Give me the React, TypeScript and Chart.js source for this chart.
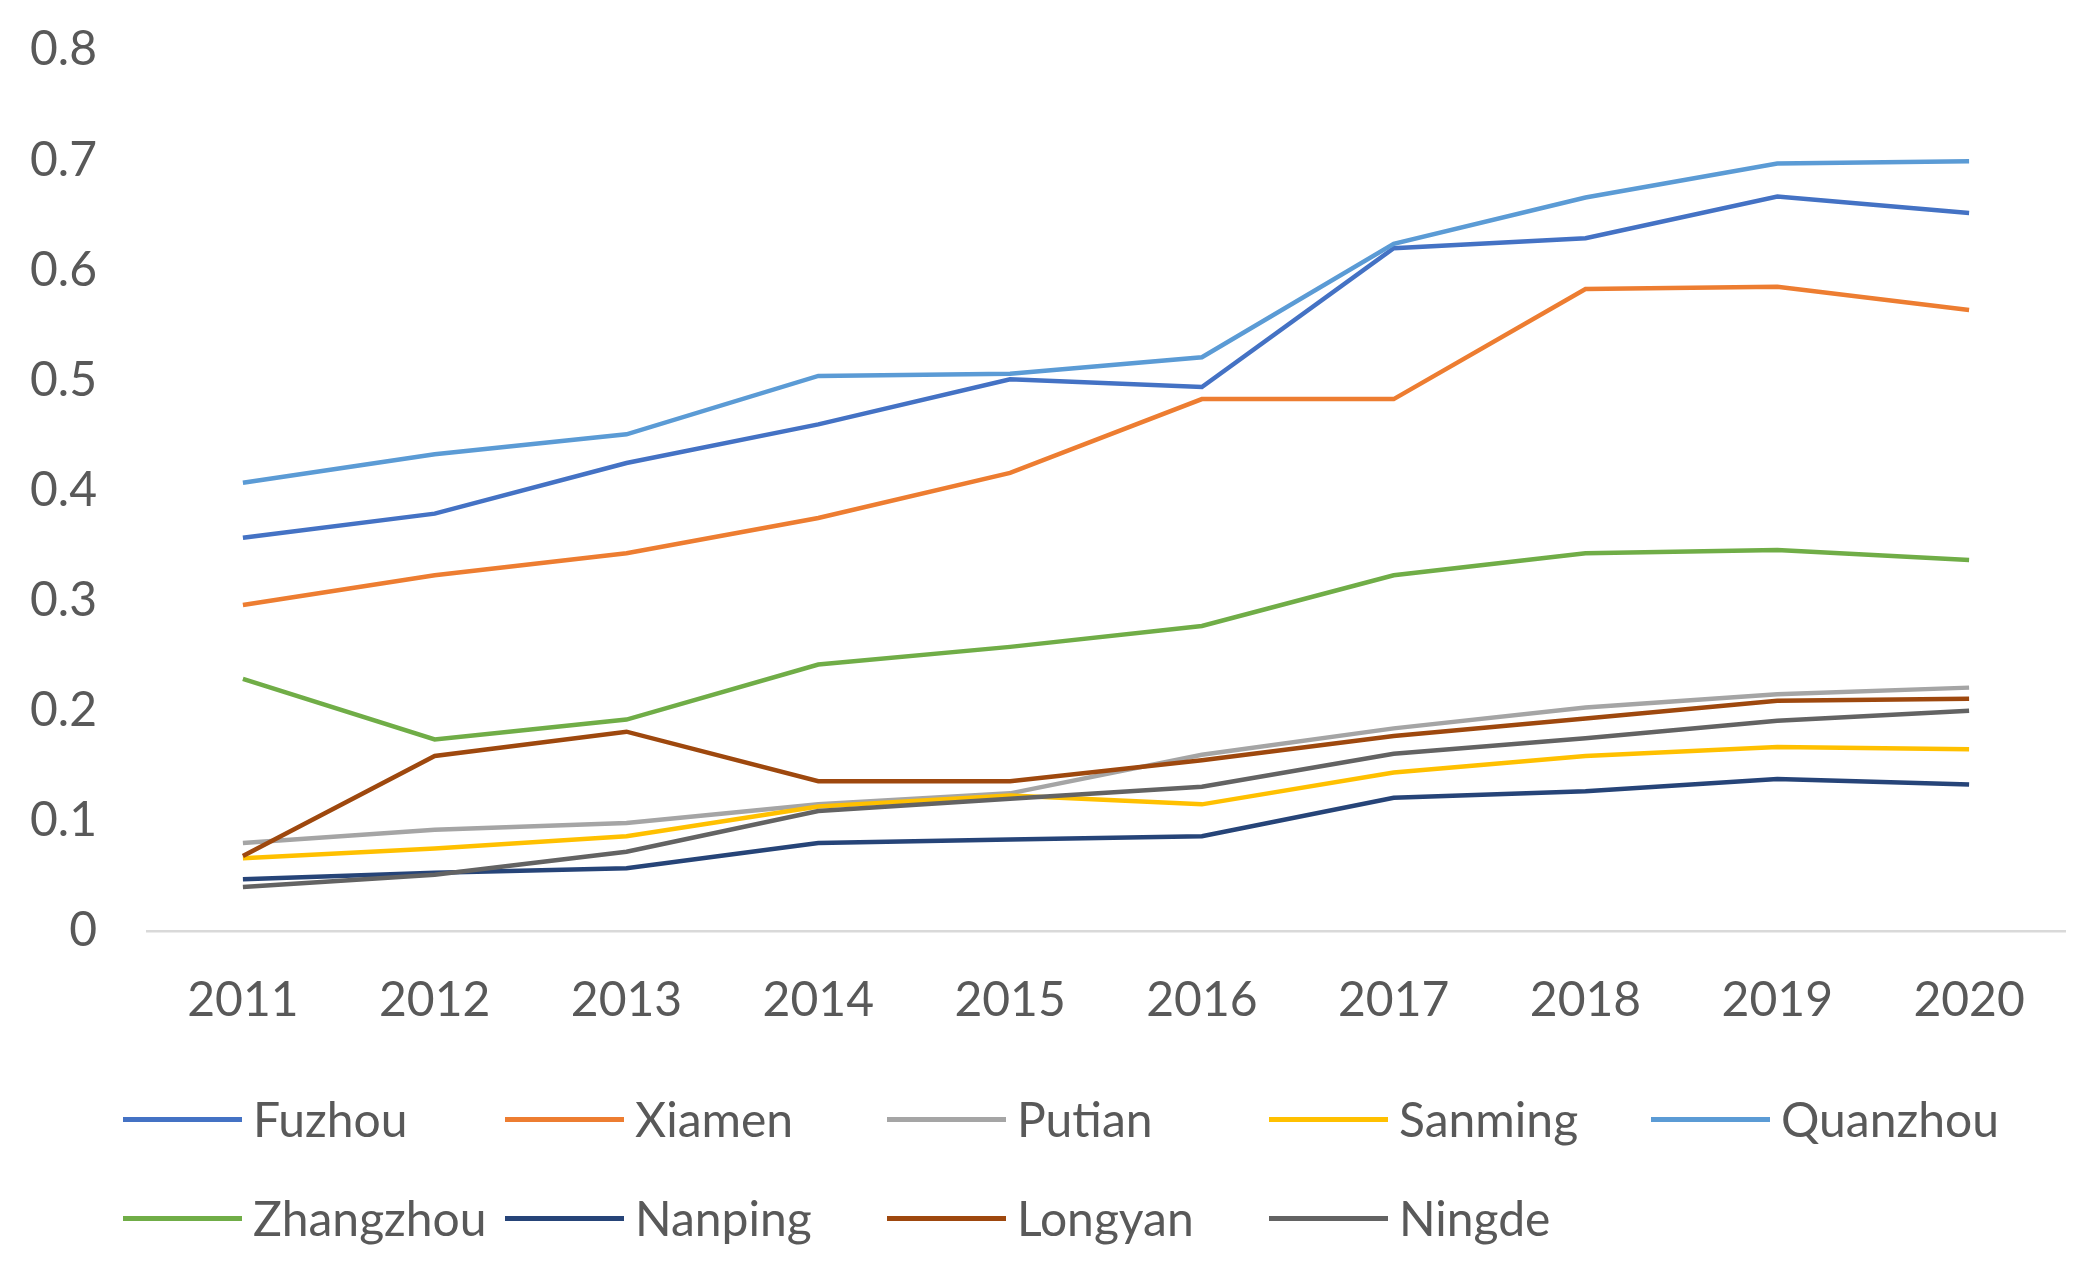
import React, { useEffect, useRef } from "react";
import { Chart, registerables } from "chart.js";

Chart.register(...registerables);

const years = ["2011", "2012", "2013", "2014", "2015", "2016", "2017", "2018", "2019", "2020"];

const fuzhou = [0.357, 0.379, 0.425, 0.46, 0.501, 0.494, 0.62, 0.629, 0.667, 0.652];
const xiamen = [0.296, 0.323, 0.343, 0.375, 0.416, 0.483, 0.483, 0.583, 0.585, 0.564];
const putian = [0.08, 0.092, 0.098, 0.115, 0.125, 0.16, 0.184, 0.203, 0.215, 0.221];
const sanming = [0.066, 0.075, 0.086, 0.113, 0.123, 0.115, 0.144, 0.159, 0.167, 0.165];
const quanzhou = [0.407, 0.433, 0.451, 0.504, 0.506, 0.521, 0.624, 0.666, 0.697, 0.699];
const zhangzhou = [0.229, 0.174, 0.192, 0.242, 0.258, 0.277, 0.323, 0.343, 0.346, 0.337];
const nanping = [0.047, 0.053, 0.057, 0.08, 0.083, 0.086, 0.121, 0.127, 0.138, 0.133];
const longyan = [0.068, 0.159, 0.181, 0.136, 0.136, 0.155, 0.177, 0.193, 0.209, 0.211];
const ningde = [0.04, 0.051, 0.072, 0.109, 0.12, 0.131, 0.161, 0.175, 0.191, 0.2];

const seriesNames = ["Fuzhou", "Xiamen", "Putian", "Sanming", "Quanzhou", "Zhangzhou", "Nanping", "Longyan", "Ningde"];
const seriesValues = [fuzhou, xiamen, putian, sanming, quanzhou, zhangzhou, nanping, longyan, ningde];
const seriesColors = ["#4472C4", "#ED7D31", "#A5A5A5", "#FFC000", "#5B9BD5", "#70AD47", "#264478", "#9E480E", "#636363"];

const FONT = "Lato, 'Open Sans', sans-serif";
const TEXT = "#595959";

export default function App() {
  const ref = useRef<HTMLCanvasElement | null>(null);

  useEffect(() => {
    if (!ref.current) return;
    const chart = new Chart(ref.current, {
      type: "line",
      data: {
        labels: years,
        datasets: seriesNames.map((name, i) => ({
          label: name,
          data: seriesValues[i],
          borderColor: seriesColors[i],
          backgroundColor: seriesColors[i],
          borderWidth: 4.5,
          pointRadius: 0,
          tension: 0,
          fill: false,
          order: -i,
        })),
      },
      options: {
        animation: false,
        responsive: true,
        maintainAspectRatio: false,
        layout: { padding: { left: 0, right: 30, top: 50, bottom: 0 } },
        plugins: {
          legend: { display: false },
          tooltip: { enabled: false },
          title: { display: false },
        },
        scales: {
          x: {
            offset: true,
            grid: { display: false, drawTicks: false },
            border: { display: true, color: "#D9D9D9", width: 2.5 },
            ticks: {
              color: TEXT,
              font: { family: FONT, size: 48 },
              padding: 41,
              maxRotation: 0,
              autoSkip: false,
            },
            afterFit: (s: any) => {
              s.height = 339;
              s.paddingLeft = 0;
              s.paddingRight = 0;
            },
          },
          y: {
            min: 0,
            max: 0.8,
            grid: { display: false, drawTicks: false },
            border: { display: false },
            ticks: {
              stepSize: 0.1,
              color: TEXT,
              font: { family: FONT, size: 48 },
              padding: 50,
              callback: (v: any) => (Number(v) === 0 ? "0" : Number(v).toFixed(1)),
            },
            afterFit: (s: any) => {
              s.width = 147;
              s.paddingTop = 0;
              s.paddingBottom = 0;
            },
          },
        },
      },
    });
    return () => chart.destroy();
  }, []);

  const rowCenters = [1119, 1218];
  return (
    <div
      style={{
        position: "fixed",
        left: 0,
        top: 0,
        width: 2095,
        height: 1270,
        background: "#ffffff",
        overflow: "hidden",
      }}
    >
      <canvas ref={ref} style={{ position: "absolute", left: 0, top: 0, width: 2095, height: 1270 }} />
      {seriesNames.map((name, i) => {
        const row = Math.floor(i / 5);
        const col = i % 5;
        return (
          <div
            key={name}
            style={{
              position: "absolute",
              left: 123 + col * 382,
              top: rowCenters[row] - 30,
              height: 60,
              display: "flex",
              alignItems: "center",
              fontFamily: FONT,
              fontSize: 48,
              lineHeight: 1,
              color: TEXT,
              whiteSpace: "nowrap",
            }}
          >
            <span
              style={{
                display: "inline-block",
                width: 119,
                height: 5,
                background: seriesColors[i],
                marginRight: 11,
              }}
            />
            <span>{name}</span>
          </div>
        );
      })}
    </div>
  );
}
